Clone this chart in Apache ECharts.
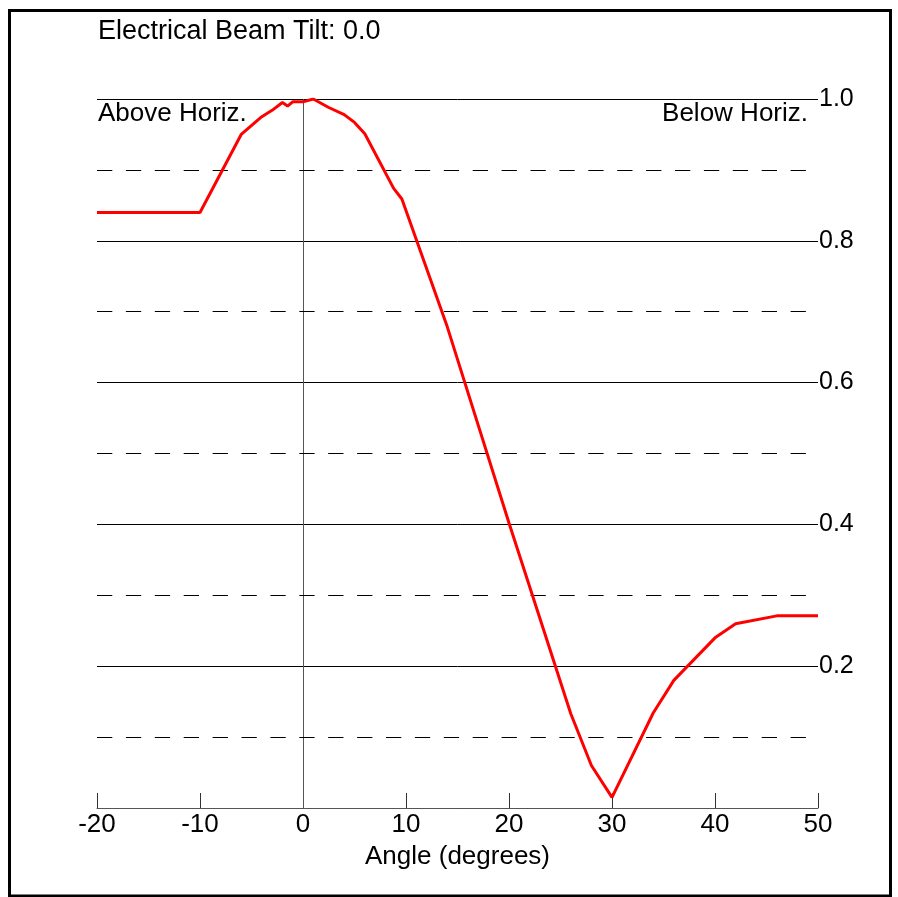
<!DOCTYPE html>
<html>
<head>
<meta charset="utf-8">
<script src="https://cdn.jsdelivr.net/npm/echarts@6/dist/echarts.min.js"></script>
<style>
  html, body { margin: 0; padding: 0; background: #fff; }
  #main { width: 898px; height: 897px; }
</style>
</head>
<body>
<div id="main"></div>
<script>
// 方向图数据（角度 / 归一化场强）
var angles = [-20, -10, -6, -4, -3, -2, -1.5, -1, 0, 1, 2.5, 4, 5, 6, 8.8, 9.6, 14, 20, 26, 28, 30, 34, 36, 40, 42, 46, 50];
var gains  = [0.84, 0.84, 0.95, 0.975, 0.984, 0.995, 0.99, 0.996, 0.996, 1.0, 0.988, 0.978, 0.967, 0.951, 0.874, 0.859, 0.679, 0.402, 0.133, 0.06, 0.015, 0.134, 0.18, 0.24, 0.26, 0.271, 0.271];
var dashedLevels = [0.1, 0.3, 0.5, 0.7, 0.9];
var titleText = 'Electrical Beam Tilt: 0.0';
var xName = 'Angle (degrees)';

var FONT = '"Liberation Sans", Arial, sans-serif';

var myChart = echarts.init(document.getElementById('main'));

var lineData = [];
for (var i = 0; i < angles.length; i++) {
    lineData.push([angles[i], gains[i]]);
}

var marks = [{ xAxis: 0, lineStyle: { type: 'solid', color: '#555', width: 1 } }];
for (var j = 0; j < dashedLevels.length; j++) {
    marks.push({ yAxis: dashedLevels[j] });
}

var option = {
    backgroundColor: '#fff',
    animation: false,
    textStyle: { fontFamily: FONT },
    grid: { left: 97, right: 80, top: 99, bottom: 89 },
    graphic: [
        {
            type: 'rect',
            shape: { x: 9.5, y: 10.5, width: 881, height: 885.5 },
            style: { fill: 'none', stroke: '#000', lineWidth: 3 },
            silent: true
        },
        {
            type: 'text',
            style: { x: 98, y: 32, text: titleText, font: '27px ' + FONT, fill: '#000', textVerticalAlign: 'middle' }
        },
        {
            type: 'text',
            style: { x: 98, y: 114, text: 'Above Horiz.', font: '26px ' + FONT, fill: '#000', textVerticalAlign: 'middle' }
        },
        {
            type: 'text',
            style: { x: 808, y: 114, text: 'Below Horiz.', font: '26px ' + FONT, fill: '#000', textAlign: 'right', textVerticalAlign: 'middle' }
        }
    ],
    xAxis: {
        type: 'value',
        min: -20,
        max: 50,
        interval: 10,
        name: xName,
        nameLocation: 'middle',
        nameGap: 36,
        nameTextStyle: { fontSize: 26, color: '#000', fontFamily: FONT },
        axisLine: { show: true, onZero: false, lineStyle: { color: '#555', width: 1 } },
        axisTick: { show: true, inside: true, length: 15, lineStyle: { color: '#333' } },
        axisLabel: { fontSize: 26, color: '#000', margin: 4, fontFamily: FONT },
        splitLine: { show: false }
    },
    yAxis: {
        type: 'value',
        position: 'right',
        min: 0,
        max: 1,
        interval: 0.2,
        axisLine: { show: false },
        axisTick: { show: false },
        axisLabel: {
            fontSize: 25,
            color: '#000',
            margin: 1,
            fontFamily: FONT,
            formatter: function (v) { return v === 0 ? '' : v.toFixed(1); }
        },
        splitLine: { show: true, lineStyle: { color: '#000', width: 1, type: 'solid' } }
    },
    series: [
        {
            name: 'pattern',
            type: 'line',
            data: lineData,
            showSymbol: false,
            smooth: false,
            z: 5,
            lineStyle: { color: '#ff0000', width: 3 },
            itemStyle: { color: '#ff0000' },
            markLine: {
                silent: true,
                symbol: 'none',
                label: { show: false },
                lineStyle: { color: '#000', width: 1, type: [15.3, 13.6] },
                data: marks
            }
        }
    ]
};

myChart.setOption(option);
</script>
</body>
</html>
